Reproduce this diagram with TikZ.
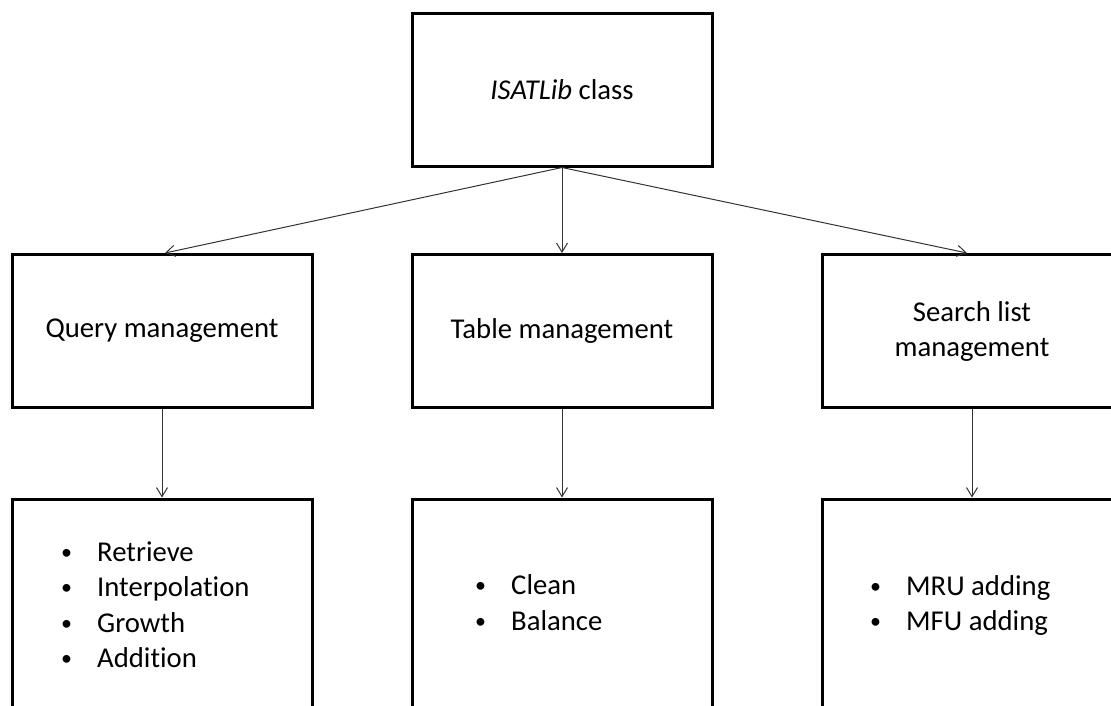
\documentclass[tikz,border=0pt]{standalone}
\usepackage{fontspec}
\setmainfont{Carlito}[Ligatures={NoCommon}]
\usetikzlibrary{arrows.meta}
\newcommand{\itemrow}[1]{\makebox[36pt][l]{\raisebox{2pt}{\fontsize{22}{22}\selectfont •}}#1}
\tikzset{
  box/.style={draw=black, line width=3pt, line join=miter, minimum width=300pt,
    inner sep=0pt, align=center, font=\fontsize{28.7}{35}\selectfont},
  listtext/.style={inner sep=0pt, anchor=base west, font=\fontsize{28.7}{35.5}\selectfont},
  link/.style={draw=black!80, line width=1pt,
    -{Straight Barb[length=9pt,width=11pt,line width=1pt]}}
}
\begin{document}
\begin{tikzpicture}[x=1pt,y=-1pt]
  \useasboundingbox (0,0) rectangle (1111,705);
  \clip (0,0) rectangle (1111,705);

  % top class box
  \node[box, minimum height=153pt] (cls) at (562,89.5) {\textit{ISATLib} class};

  % management boxes
  \node[box, minimum height=153pt] (qm) at (162,331) {Query management};
  \node[box, minimum height=153pt] (tm) at (562,331) {Table management};
  \node[box, minimum height=153pt] (sm) at (972,331) {Search list\\management};

  % operation boxes (running off the lower edge)
  \node[box, minimum height=300pt] (qo) at (162,649) {};
  \node[box, minimum height=300pt] (to) at (562,649) {};
  \node[box, minimum height=300pt] (so) at (972,649) {};

  % operation lists
  \node[listtext] (ql) at (61,561) {\begin{tabular}[t]{@{}l@{}}
      \itemrow{Retrieve}\\ \itemrow{Interpolation}\\ \itemrow{Growth}\\ \itemrow{Addition}\end{tabular}};
  \node[listtext] (tl) at (475,594.5) {\begin{tabular}[t]{@{}l@{}}
      \itemrow{Clean}\\ \itemrow{Balance}\end{tabular}};
  \node[listtext] (sl) at (870,595) {\begin{tabular}[t]{@{}l@{}}
      \itemrow{MRU adding}\\ \itemrow{MFU adding}\end{tabular}};

  % connectors
  \draw[link] (cls.south) -- ([xshift=3pt]qm.north);
  \draw[link] (cls.south) -- (tm.north);
  \draw[link] (cls.south) -- ([xshift=-5pt]sm.north);
  \draw[link] (qm.south) -- (qo.north);
  \draw[link] (tm.south) -- (to.north);
  \draw[link] (sm.south) -- (so.north);
\end{tikzpicture}
\end{document}
